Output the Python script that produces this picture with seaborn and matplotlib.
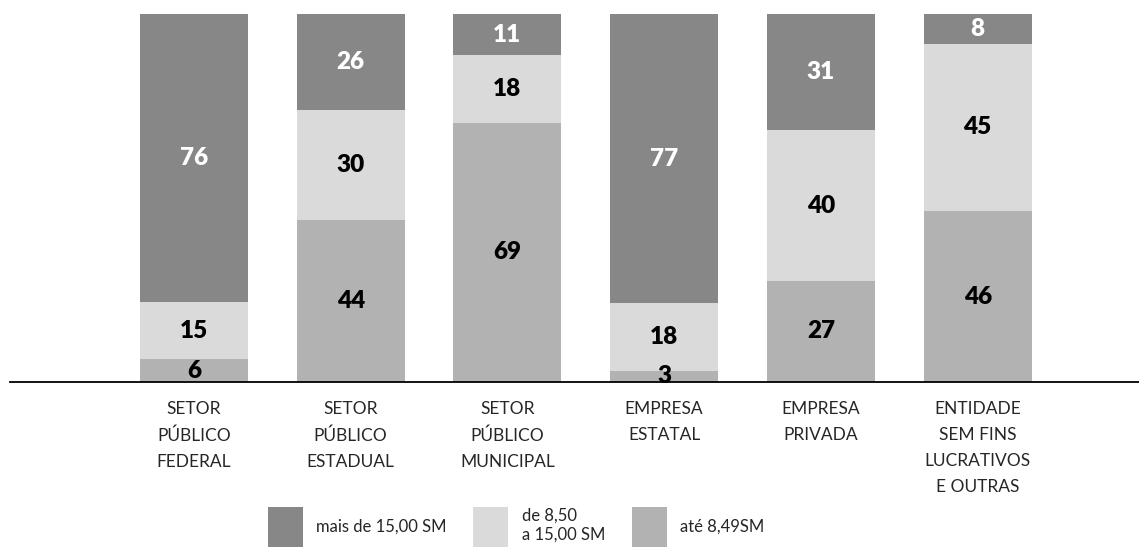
import numpy as np
import pandas as pd
import matplotlib
matplotlib.use("Agg")
import matplotlib.pyplot as plt
import seaborn as sns
from matplotlib.patches import Patch

# dados (percentuais por faixa salarial)
categorias = [
    "SETOR\nPÚBLICO\nFEDERAL",
    "SETOR\nPÚBLICO\nESTADUAL",
    "SETOR\nPÚBLICO\nMUNICIPAL",
    "EMPRESA\nESTATAL",
    "EMPRESA\nPRIVADA",
    "ENTIDADE\nSEM FINS\nLUCRATIVOS\nE OUTRAS",
]
ate_849 = [6, 44, 69, 3, 27, 46]
de_850_a_1500 = [15, 30, 18, 18, 40, 45]
mais_1500 = [76, 26, 11, 77, 31, 8]

faixas = ["mais de 15,00 SM", "de 8,50\na 15,00 SM", "até 8,49SM"]
cores = {"mais de 15,00 SM": "#878787", "de 8,50\na 15,00 SM": "#dadada", "até 8,49SM": "#b2b2b2"}

df = pd.DataFrame({
    "categoria": categorias,
    "baixo": ate_849,
    "medio": de_850_a_1500,
    "alto": mais_1500,
})
tot = df[["baixo", "medio", "alto"]].sum(axis=1)
# normaliza para 100 (barras cheias como no original)
df["c1"] = df["baixo"] / tot * 100
df["c2"] = df["c1"] + df["medio"] / tot * 100
df["c3"] = df["c2"] + df["alto"] / tot * 100

sns.set_style("white")
plt.rcParams["font.family"] = ["Lato", "DejaVu Sans"]

fig = plt.figure(figsize=(11.39, 5.52), dpi=100)
ax = fig.add_axes([10 / 1139, 170 / 552, 1129 / 1139, 368 / 552])

w = 0.69
for col, f in zip(["c3", "c2", "c1"], faixas):
    sns.barplot(data=df, x="categoria", y=col, color=cores[f], width=w, ax=ax,
                saturation=1, linewidth=0, edgecolor="none")

# rótulos dos valores
for i, row in df.iterrows():
    ax.text(i, row["c1"] / 2, f"{row['baixo']}", ha="center", va="center",
            fontsize=17.5, fontweight="heavy", color="black")
    ax.text(i, (row["c1"] + row["c2"]) / 2, f"{row['medio']}", ha="center", va="center",
            fontsize=17.5, fontweight="heavy", color="black")
    ax.text(i, (row["c2"] + row["c3"]) / 2, f"{row['alto']}", ha="center", va="center",
            fontsize=17.5, fontweight="heavy", color="white")

ax.set_xlim(-1.174, 6.03)
ax.set_ylim(0, 100)
ax.set_xlabel("")
ax.set_ylabel("")
ax.set_yticks([])
ax.tick_params(axis="x", length=0, pad=14, labelsize=12.5)
for lab in ax.get_xticklabels():
    lab.set_linespacing(1.75)
for s in ["top", "right", "left"]:
    ax.spines[s].set_visible(False)
ax.spines["bottom"].set_color("black")
ax.spines["bottom"].set_linewidth(1.3)

handles = [Patch(facecolor=cores[f], edgecolor="none", label=f) for f in faixas]
fig.legend(handles=handles, loc="center", bbox_to_anchor=(0.453, 0.045), ncol=3,
           frameon=False, fontsize=12, handlelength=2.1, handleheight=3.3,
           columnspacing=1.6, handletextpad=0.8, borderaxespad=0)

fig.savefig("out.png", dpi=100)
